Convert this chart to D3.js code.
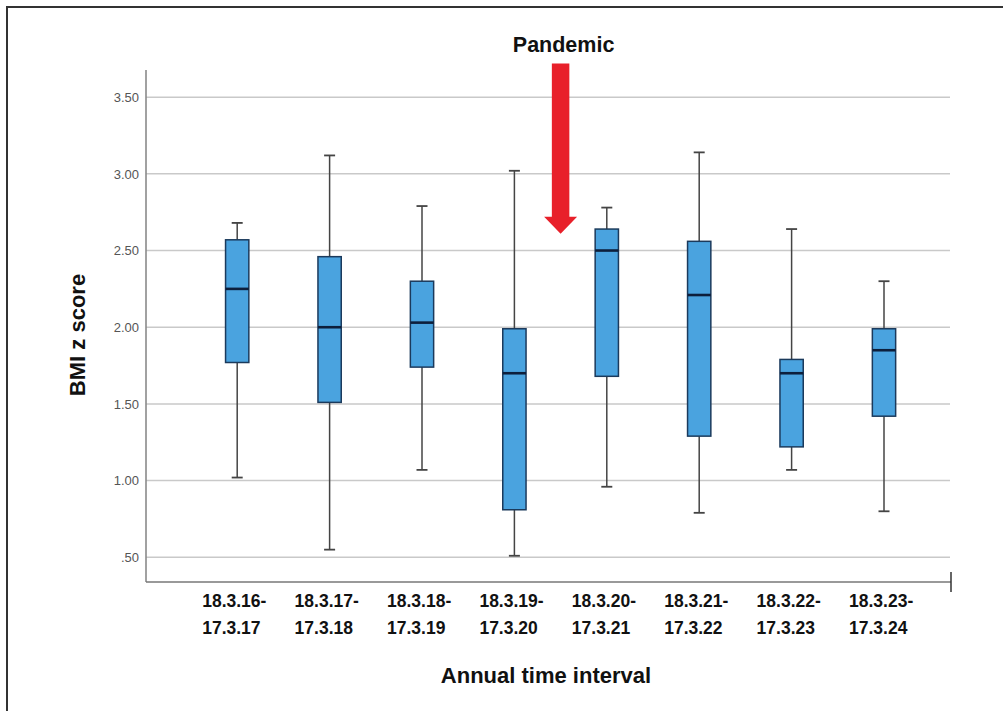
<!DOCTYPE html>
<html>
<head>
<meta charset="utf-8">
<script src="https://cdn.jsdelivr.net/npm/d3@7"></script>
<style>
  html, body { margin: 0; padding: 0; background: #fff; }
  svg { display: block; }
</style>
</head>
<body>
<svg id="chart" width="1003" height="711"></svg>
<script>
// ---- data ----
const categories = ["18.3.16-\n17.3.17", "18.3.17-\n17.3.18", "18.3.18-\n17.3.19", "18.3.19-\n17.3.20",
                    "18.3.20-\n17.3.21", "18.3.21-\n17.3.22", "18.3.22-\n17.3.23", "18.3.23-\n17.3.24"];
const mins    = [1.02, 0.55, 1.07, 0.51, 0.96, 0.79, 1.07, 0.80];
const q1s     = [1.77, 1.51, 1.74, 0.81, 1.68, 1.29, 1.22, 1.42];
const medians = [2.25, 2.00, 2.03, 1.70, 2.50, 2.21, 1.70, 1.85];
const q3s     = [2.57, 2.46, 2.30, 1.99, 2.64, 2.56, 1.79, 1.99];
const maxs    = [2.68, 3.12, 2.79, 3.02, 2.78, 3.14, 2.64, 2.30];
const yTicks  = [0.5, 1.0, 1.5, 2.0, 2.5, 3.0, 3.5];
const yTickLabels = [".50", "1.00", "1.50", "2.00", "2.50", "3.00", "3.50"];
const yTitle = "BMI z score";
const xTitle = "Annual time interval";
const annotation = "Pandemic";
const arrowTop = 3.72, arrowTip = 2.61;

const svg = d3.select("#chart");

// frame
svg.append("rect").attr("x", 7).attr("y", 7).attr("width", 1100).attr("height", 800)
  .attr("fill", "none").attr("stroke", "#333").attr("stroke-width", 2);

const plotLeft = 146, plotRight = 951, plotTop = 70, plotBottom = 582;

const y = d3.scaleLinear().domain([0.339, 3.677]).range([plotBottom, plotTop]);
const x = d3.scaleBand().domain(categories).range([191, 930.2]).paddingInner(0).paddingOuter(0);
const boxW = x.bandwidth() * 0.252;
const cx = c => x(c) + x.bandwidth() / 2;

// gridlines
svg.append("g").selectAll("line").data(yTicks).join("line")
  .attr("x1", plotLeft).attr("x2", plotRight - 1)
  .attr("y1", d => y(d)).attr("y2", d => y(d))
  .attr("stroke", "#c9c9c9").attr("stroke-width", 1.5);

// y axis
const yAxis = d3.axisLeft(y).tickValues(yTicks)
  .tickFormat((d, i) => yTickLabels[i]).tickSize(0).tickPadding(7);
const yg = svg.append("g").attr("transform", `translate(${plotLeft},0)`).call(yAxis);
yg.select(".domain").remove();
yg.selectAll("text").attr("font-family", "Liberation Sans, Arial, sans-serif")
  .attr("font-size", 13).attr("fill", "#555");
svg.append("line").attr("x1", plotLeft).attr("x2", plotLeft)
  .attr("y1", plotTop).attr("y2", plotBottom)
  .attr("stroke", "#8a8a8a").attr("stroke-width", 1.6);

// x axis
svg.append("line").attr("x1", plotLeft).attr("x2", plotRight)
  .attr("y1", plotBottom).attr("y2", plotBottom)
  .attr("stroke", "#777").attr("stroke-width", 1.6);
svg.append("line").attr("x1", plotRight).attr("x2", plotRight)
  .attr("y1", plotBottom - 10).attr("y2", plotBottom + 10)
  .attr("stroke", "#333").attr("stroke-width", 1.5);

const xAxis = d3.axisBottom(x).tickSize(0).tickFormat("");
const xg = svg.append("g").attr("transform", `translate(0,${plotBottom})`).call(xAxis);
xg.select(".domain").remove();
xg.selectAll(".tick").each(function(d) {
  const lines = d.split("\n");
  const t = d3.select(this).append("text")
    .attr("font-family", "Liberation Sans, Arial, sans-serif")
    .attr("font-weight", "bold").attr("font-size", 17.5).attr("fill", "#111")
    .attr("text-anchor", "start");
  lines.forEach((ln, i) => {
    t.append("tspan").attr("x", -35).attr("y", 25 + i * 27).text(ln);
  });
});

// boxes
const g = svg.append("g");
categories.forEach((c, i) => {
  const xc = cx(c);
  // whiskers
  g.append("line").attr("x1", xc).attr("x2", xc).attr("y1", y(maxs[i])).attr("y2", y(q3s[i]))
    .attr("stroke", "#444").attr("stroke-width", 1.5);
  g.append("line").attr("x1", xc).attr("x2", xc).attr("y1", y(q1s[i])).attr("y2", y(mins[i]))
    .attr("stroke", "#444").attr("stroke-width", 1.5);
  [maxs[i], mins[i]].forEach(v => {
    g.append("line").attr("x1", xc - 5.5).attr("x2", xc + 5.5).attr("y1", y(v)).attr("y2", y(v))
      .attr("stroke", "#444").attr("stroke-width", 1.8);
  });
  g.append("rect").attr("x", xc - boxW / 2).attr("width", boxW)
    .attr("y", y(q3s[i])).attr("height", y(q1s[i]) - y(q3s[i]))
    .attr("fill", "#4aa3df").attr("stroke", "#1b3a5c").attr("stroke-width", 1.5);
  g.append("line").attr("x1", xc - boxW / 2).attr("x2", xc + boxW / 2)
    .attr("y1", y(medians[i])).attr("y2", y(medians[i]))
    .attr("stroke", "#0d1f3c").attr("stroke-width", 2.6);
});

// pandemic arrow between 4th and 5th category
const ax = (cx(categories[3]) + cx(categories[4])) / 2;
const shaftW = 17.5, headW = 33, headH = 17;
const yTop = y(arrowTop), yTip = y(arrowTip);
svg.append("path")
  .attr("d", `M${ax - shaftW/2},${yTop} L${ax + shaftW/2},${yTop} L${ax + shaftW/2},${yTip - headH}
              L${ax + headW/2},${yTip - headH} L${ax},${yTip} L${ax - headW/2},${yTip - headH}
              L${ax - shaftW/2},${yTip - headH} Z`)
  .attr("fill", "#e8202a");
svg.append("text").attr("x", ax + 3).attr("y", 52).attr("text-anchor", "middle")
  .attr("font-family", "Liberation Sans, Arial, sans-serif").attr("font-weight", "bold")
  .attr("font-size", 21.5).attr("fill", "#111").text(annotation);

// axis titles
svg.append("text").attr("transform", `translate(85,335) rotate(-90)`)
  .attr("text-anchor", "middle")
  .attr("font-family", "Liberation Sans, Arial, sans-serif").attr("font-weight", "bold")
  .attr("font-size", 22).attr("fill", "#111").text(yTitle);
svg.append("text").attr("x", 546).attr("y", 683).attr("text-anchor", "middle")
  .attr("font-family", "Liberation Sans, Arial, sans-serif").attr("font-weight", "bold")
  .attr("font-size", 22).attr("fill", "#111").text(xTitle);
</script>
</body>
</html>
